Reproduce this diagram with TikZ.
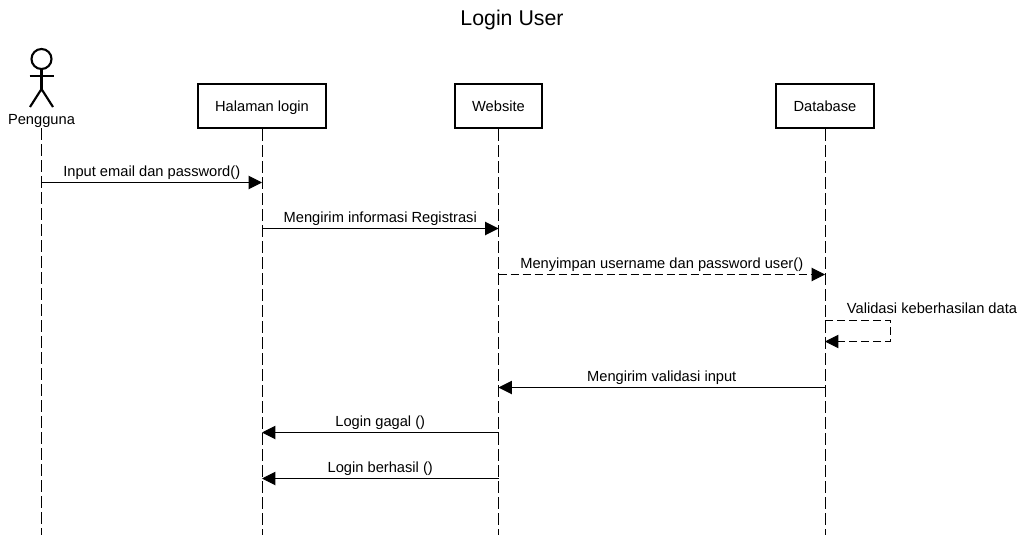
\documentclass[tikz,border=0pt]{standalone}
\usepackage{fontspec}
\setmainfont{Liberation Sans}
\usetikzlibrary{arrows.meta}
\tikzset{
    objbox/.style={draw, line width=1.6pt, minimum height=33pt, inner sep=0pt, text height=9.5pt, text depth=2pt, font=\fontsize{11}{13}\selectfont},
    lifeline/.style={line width=0.75pt, dash pattern=on 9pt off 3pt},
    msg/.style={line width=0.75pt, -{Triangle[length=10pt,width=10pt]}},
    retmsg/.style={msg, dash pattern=on 6pt off 3pt},
    msglabel/.style={midway, above, inner sep=0pt, yshift=2pt, font=\fontsize{11}{13}\selectfont},
    actorline/.style={line width=1.6pt}
}
\begin{document}
\begin{tikzpicture}[x=0.75pt, y=-0.75pt]
    \useasboundingbox (0,0) rectangle (1024,535);

    % Title
    \node[font=\fontsize{16}{19}\selectfont] (title) at (512, 19.5) {Login User};

    % Actor
    \draw[actorline] (41.5, 59) circle (7.5pt);
    \draw[actorline] (41.5, 69) -- (41.5, 89);
    \draw[actorline] (29.5, 76) -- (53.5, 76);
    \draw[actorline] (30, 107) -- (41.5, 89) -- (53, 107);
    \node[font=\fontsize{11}{13}\selectfont] (pengguna) at (41.5, 120.5) {Pengguna};

    % Objects
    \node[objbox, minimum width=96pt] (halaman) at (262, 106) {Halaman login};
    \node[objbox, minimum width=65.25pt] (website) at (498.5, 106) {Website};
    \node[objbox, minimum width=73.5pt] (database) at (825, 106) {Database};

    % Lifeline ends
    \coordinate (penggunaend) at (41.5, 535);
    \coordinate (halamanend) at (262, 535);
    \coordinate (websiteend) at (498.5, 535);
    \coordinate (databaseend) at (825, 535);

    % Lifelines
    \draw[lifeline] (41.5, 128) -- (penggunaend);
    \draw[lifeline] (halaman.south) -- (halamanend);
    \draw[lifeline] (website.south) -- (websiteend);
    \draw[lifeline] (database.south) -- (databaseend);

    % Points on the lifelines
    \coordinate (p1) at (41.5, 182.5);
    \coordinate (h1) at (262, 182.5);
    \coordinate (h2) at (262, 228.5);
    \coordinate (w2) at (498.5, 228.5);
    \coordinate (w3) at (498.5, 274.5);
    \coordinate (d3) at (825, 274.5);
    \coordinate (d4) at (825, 320.5);
    \coordinate (d5) at (825, 341.5);
    \coordinate (c4) at (890.5, 320.5);
    \coordinate (c5) at (890.5, 341.5);
    \coordinate (d6) at (825, 387.5);
    \coordinate (w6) at (498.5, 387.5);
    \coordinate (w7) at (498.5, 432.5);
    \coordinate (h7) at (262, 432.5);
    \coordinate (w8) at (498.5, 478.5);
    \coordinate (h8) at (262, 478.5);

    % Messages
    \draw[msg] (p1) -- node[msglabel] (input) {Input email dan password()} (h1);
    \draw[msg] (h2) -- node[msglabel] (info) {Mengirim informasi Registrasi} (w2);
    \draw[retmsg] (w3) -- node[msglabel] (simpan) {Menyimpan username dan password user()} (d3);
    \draw[retmsg] (d4) -- (c4) -- (c5) -- (d5);
    \node[font=\fontsize{11}{13}\selectfont] (validasi) at (932, 308) {Validasi keberhasilan data};
    \draw[msg] (d6) -- node[msglabel] (kirim) {Mengirim validasi input} (w6);
    \draw[msg] (w7) -- node[msglabel] (gagal) {Login gagal ()} (h7);
    \draw[msg] (w8) -- node[msglabel] (berhasil) {Login berhasil ()} (h8);

\end{tikzpicture}
\end{document}
